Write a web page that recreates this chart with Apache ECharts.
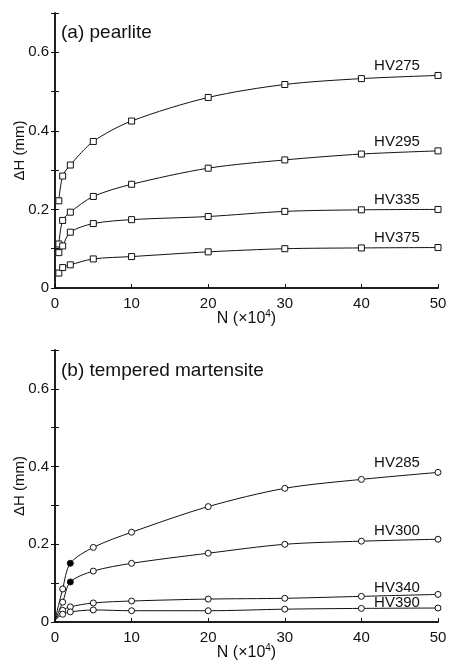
<!DOCTYPE html>
<html lang="en">
<head>
    <meta charset="UTF-8">
    <title>Delta H vs N</title>
    <script src="https://cdn.jsdelivr.net/npm/echarts@6/dist/echarts.min.js"></script>
    <style>
        *{margin:0;padding:0;}
        body,html{width:100%;height:100%;overflow:hidden;background:#fff;}
        .box{width:450px;height:662px;}
    </style>
</head>
<body>
<div class="box"></div>
<script>
    // (a) pearlite
    let nA = [0.5, 1, 2, 5, 10, 20, 30, 40, 50];
    let hv275 = [0.222, 0.285, 0.313, 0.373, 0.425, 0.485, 0.518, 0.533, 0.541];
    let hv295 = [0.112, 0.172, 0.193, 0.233, 0.264, 0.305, 0.326, 0.341, 0.349];
    let hv335 = [0.090, 0.107, 0.142, 0.164, 0.174, 0.182, 0.195, 0.199, 0.200];
    let hv375 = [0.038, 0.052, 0.059, 0.074, 0.080, 0.092, 0.100, 0.102, 0.103];

    // (b) tempered martensite
    let nB = [0, 1, 2, 5, 10, 20, 30, 40, 50];
    let hv285 = [0.005, 0.085, 0.151, 0.192, 0.231, 0.297, 0.344, 0.367, 0.385];
    let hv300 = [0.005, 0.051, 0.103, 0.131, 0.151, 0.177, 0.200, 0.208, 0.213];
    let hv340 = [0.005, 0.030, 0.039, 0.049, 0.054, 0.059, 0.061, 0.066, 0.071];
    let hv390 = [0.005, 0.020, 0.026, 0.031, 0.029, 0.029, 0.033, 0.035, 0.036];

    let filledAt = 2; // N where the martensite curves have a solid marker

    let font = 'Liberation Sans, Arial, sans-serif';

    let myChart = echarts.init(document.querySelector('.box'));

    function makeSeries(name, xs, ys, symbol, grid, labelDy, solid) {
        let data = xs.map((x, i) => {
            let item = {value: [x, ys[i]]};
            if (x === 0) item.symbol = 'none';
            if (solid && x === filledAt) item.itemStyle = {color: '#000'};
            if (i === xs.length - 1) {
                item.label = {
                    show: true,
                    position: 'inside',
                    offset: [-41, labelDy],
                    formatter: name,
                    color: '#111',
                    fontSize: 15,
                    fontFamily: font
                };
            }
            return item;
        });
        return {
            name: name,
            type: 'line',
            xAxisIndex: grid * 2,
            yAxisIndex: grid * 2,
            data: data,
            smooth: 0.3,
            symbol: symbol,
            symbolSize: 6,
            showAllSymbol: true,
            lineStyle: {color: '#111', width: 1},
            itemStyle: {color: '#fff', borderColor: '#111', borderWidth: 1},
            emphasis: {disabled: true},
            z: 3
        };
    }

    function xAxes(grid) {
        return [{
            type: 'value', gridIndex: grid, min: 0, max: 50, interval: 10,
            name: '{a|N (×10}{s|4}{a|)}',
            nameLocation: 'middle', nameGap: 21, nameMoveOverlap: false,
            nameTextStyle: {
                rich: {
                    a: {fontSize: 16, fontFamily: font, color: '#111'},
                    s: {fontSize: 10, fontFamily: font, color: '#111', verticalAlign: 'top', padding: [0, 0, 9, 0]}
                }
            },
            axisLine: {lineStyle: {color: '#111', width: 1.5}},
            axisTick: {inside: true, length: 4, lineStyle: {color: '#111'}},
            axisLabel: {color: '#111', fontSize: 15, fontFamily: font, margin: 8},
            splitLine: {show: false}
        }, {
            type: 'value', gridIndex: grid, min: 0, max: 50, interval: 10, position: 'top',
            axisLine: {lineStyle: {color: '#111', width: 1.5}},
            axisTick: {show: false},
            axisLabel: {show: false},
            splitLine: {show: false}
        }];
    }

    function yAxes(grid) {
        let tick = {inside: true, length: 4, lineStyle: {color: '#111'}};
        return [{
            type: 'value', gridIndex: grid, min: 0, max: 0.7, interval: 0.1,
            name: 'ΔH (mm)',
            nameLocation: 'middle', nameGap: 28, nameMoveOverlap: false,
            nameTextStyle: {fontSize: 15, fontFamily: font, color: '#111'},
            axisLine: {lineStyle: {color: '#111', width: 1.5}},
            axisTick: tick,
            axisLabel: {
                color: '#111', fontSize: 15, fontFamily: font, margin: 6,
                formatter: v => {
                    let k = Math.round(v * 10);
                    if (k % 2 !== 0 || k > 6) return '';
                    return k === 0 ? '0' : (k / 10).toFixed(1);
                }
            },
            splitLine: {show: false}
        }, {
            type: 'value', gridIndex: grid, min: 0, max: 0.7, interval: 0.1, position: 'right',
            axisLine: {lineStyle: {color: '#111', width: 1.5}},
            axisTick: tick,
            axisLabel: {show: false},
            splitLine: {show: false}
        }];
    }

    let option = {
        backgroundColor: '#fff',
        animation: false,
        title: [{
            text: '(a) pearlite', left: 56, top: 18,
            textStyle: {fontSize: 19, fontWeight: 'normal', fontFamily: font, color: '#111'}
        }, {
            text: '(b) tempered martensite', left: 56, top: 356,
            textStyle: {fontSize: 19, fontWeight: 'normal', fontFamily: font, color: '#111'}
        }],
        grid: [
            {left: 55, right: 12, top: 13, height: 275, outerBoundsMode: 'none'},
            {left: 55, right: 12, top: 350, height: 272, outerBoundsMode: 'none'}
        ],
        xAxis: xAxes(0).concat(xAxes(1)),
        yAxis: yAxes(0).concat(yAxes(1)),
        series: [
            makeSeries('HV275', nA, hv275, 'rect', 0, -10),
            makeSeries('HV295', nA, hv295, 'rect', 0, -9),
            makeSeries('HV335', nA, hv335, 'rect', 0, -10),
            makeSeries('HV375', nA, hv375, 'rect', 0, -10),
            makeSeries('HV285', nB, hv285, 'circle', 1, -10, true),
            makeSeries('HV300', nB, hv300, 'circle', 1, -8, true),
            makeSeries('HV340', nB, hv340, 'circle', 1, -7),
            makeSeries('HV390', nB, hv390, 'circle', 1, -5)
        ]
    };

    myChart.setOption(option);
</script>
</body>
</html>
